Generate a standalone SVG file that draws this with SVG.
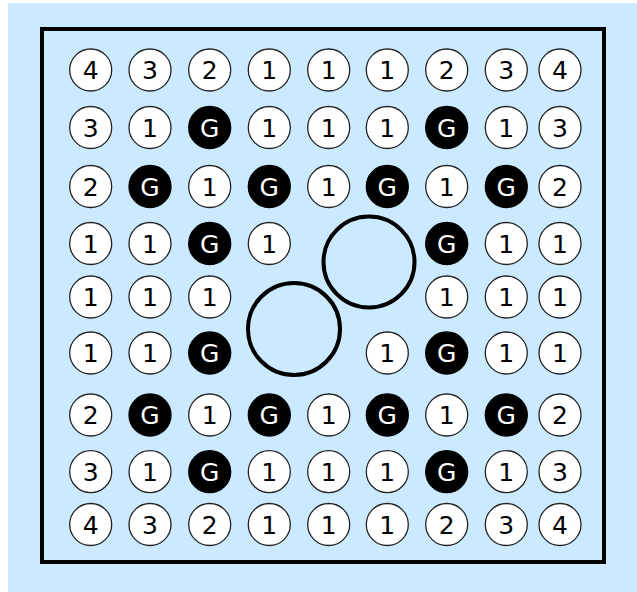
<svg xmlns="http://www.w3.org/2000/svg" width="637" height="592" viewBox="0 0 637 592">
<style>
.w circle{fill:#fff;stroke:#222;stroke-width:1.3}
.b circle{fill:#000;stroke:#000;stroke-width:1.3}
text{font-family:"DejaVu Sans",Verdana,sans-serif;font-size:25px;text-anchor:middle}
.w text{fill:#000}
.b text{fill:#fff}
.big{fill:none;stroke:#000;stroke-width:4}
</style>
<rect x="0" y="0" width="637" height="592" fill="#fff"/>
<rect x="8" y="3" width="629" height="589" fill="#cceaff"/>
<rect x="42" y="29" width="562" height="533" fill="none" stroke="#000" stroke-width="4"/>
<g id="nodes">
<g id="r1c1" class="w"><circle cx="90.7" cy="70" r="21"/><text x="90.7" y="79">4</text></g>
<g id="r1c2" class="w"><circle cx="150" cy="70" r="21"/><text x="150" y="79">3</text></g>
<g id="r1c3" class="w"><circle cx="209.7" cy="70" r="21"/><text x="209.7" y="79">2</text></g>
<g id="r1c4" class="w"><circle cx="269.3" cy="70" r="21"/><text x="269.3" y="79">1</text></g>
<g id="r1c5" class="w"><circle cx="328.7" cy="70" r="21"/><text x="328.7" y="79">1</text></g>
<g id="r1c6" class="w"><circle cx="387.3" cy="70" r="21"/><text x="387.3" y="79">1</text></g>
<g id="r1c7" class="w"><circle cx="446.7" cy="70" r="21"/><text x="446.7" y="79">2</text></g>
<g id="r1c8" class="w"><circle cx="506.3" cy="70" r="21"/><text x="506.3" y="79">3</text></g>
<g id="r1c9" class="w"><circle cx="560" cy="70" r="21"/><text x="560" y="79">4</text></g>

<g id="r2c1" class="w"><circle cx="90.7" cy="127.5" r="21"/><text x="90.7" y="136.5">3</text></g>
<g id="r2c2" class="w"><circle cx="150" cy="127.5" r="21"/><text x="150" y="136.5">1</text></g>
<g id="r2c3" class="b"><circle cx="209.7" cy="127.5" r="21"/><text x="209.7" y="136.5">G</text></g>
<g id="r2c4" class="w"><circle cx="269.3" cy="127.5" r="21"/><text x="269.3" y="136.5">1</text></g>
<g id="r2c5" class="w"><circle cx="328.7" cy="127.5" r="21"/><text x="328.7" y="136.5">1</text></g>
<g id="r2c6" class="w"><circle cx="387.3" cy="127.5" r="21"/><text x="387.3" y="136.5">1</text></g>
<g id="r2c7" class="b"><circle cx="446.7" cy="127.5" r="21"/><text x="446.7" y="136.5">G</text></g>
<g id="r2c8" class="w"><circle cx="506.3" cy="127.5" r="21"/><text x="506.3" y="136.5">1</text></g>
<g id="r2c9" class="w"><circle cx="560" cy="127.5" r="21"/><text x="560" y="136.5">3</text></g>

<g id="r3c1" class="w"><circle cx="90.7" cy="186.5" r="21"/><text x="90.7" y="195.5">2</text></g>
<g id="r3c2" class="b"><circle cx="150" cy="186.5" r="21"/><text x="150" y="195.5">G</text></g>
<g id="r3c3" class="w"><circle cx="209.7" cy="186.5" r="21"/><text x="209.7" y="195.5">1</text></g>
<g id="r3c4" class="b"><circle cx="269.3" cy="186.5" r="21"/><text x="269.3" y="195.5">G</text></g>
<g id="r3c5" class="w"><circle cx="328.7" cy="186.5" r="21"/><text x="328.7" y="195.5">1</text></g>
<g id="r3c6" class="b"><circle cx="387.3" cy="186.5" r="21"/><text x="387.3" y="195.5">G</text></g>
<g id="r3c7" class="w"><circle cx="446.7" cy="186.5" r="21"/><text x="446.7" y="195.5">1</text></g>
<g id="r3c8" class="b"><circle cx="506.3" cy="186.5" r="21"/><text x="506.3" y="195.5">G</text></g>
<g id="r3c9" class="w"><circle cx="560" cy="186.5" r="21"/><text x="560" y="195.5">2</text></g>

<g id="r4c1" class="w"><circle cx="90.7" cy="243.5" r="21"/><text x="90.7" y="252.5">1</text></g>
<g id="r4c2" class="w"><circle cx="150" cy="243.5" r="21"/><text x="150" y="252.5">1</text></g>
<g id="r4c3" class="b"><circle cx="209.7" cy="243.5" r="21"/><text x="209.7" y="252.5">G</text></g>
<g id="r4c4" class="w"><circle cx="269.3" cy="243.5" r="21"/><text x="269.3" y="252.5">1</text></g>
<g id="r4c7" class="b"><circle cx="446.7" cy="243.5" r="21"/><text x="446.7" y="252.5">G</text></g>
<g id="r4c8" class="w"><circle cx="506.3" cy="243.5" r="21"/><text x="506.3" y="252.5">1</text></g>
<g id="r4c9" class="w"><circle cx="560" cy="243.5" r="21"/><text x="560" y="252.5">1</text></g>

<g id="r5c1" class="w"><circle cx="90.7" cy="297" r="21"/><text x="90.7" y="306">1</text></g>
<g id="r5c2" class="w"><circle cx="150" cy="297" r="21"/><text x="150" y="306">1</text></g>
<g id="r5c3" class="w"><circle cx="209.7" cy="297" r="21"/><text x="209.7" y="306">1</text></g>
<g id="r5c7" class="w"><circle cx="446.7" cy="297" r="21"/><text x="446.7" y="306">1</text></g>
<g id="r5c8" class="w"><circle cx="506.3" cy="297" r="21"/><text x="506.3" y="306">1</text></g>
<g id="r5c9" class="w"><circle cx="560" cy="297" r="21"/><text x="560" y="306">1</text></g>

<g id="r6c1" class="w"><circle cx="90.7" cy="353" r="21"/><text x="90.7" y="362">1</text></g>
<g id="r6c2" class="w"><circle cx="150" cy="353" r="21"/><text x="150" y="362">1</text></g>
<g id="r6c3" class="b"><circle cx="209.7" cy="353" r="21"/><text x="209.7" y="362">G</text></g>
<g id="r6c6" class="w"><circle cx="387.3" cy="353" r="21"/><text x="387.3" y="362">1</text></g>
<g id="r6c7" class="b"><circle cx="446.7" cy="353" r="21"/><text x="446.7" y="362">G</text></g>
<g id="r6c8" class="w"><circle cx="506.3" cy="353" r="21"/><text x="506.3" y="362">1</text></g>
<g id="r6c9" class="w"><circle cx="560" cy="353" r="21"/><text x="560" y="362">1</text></g>

<g id="r7c1" class="w"><circle cx="90.7" cy="415" r="21"/><text x="90.7" y="424">2</text></g>
<g id="r7c2" class="b"><circle cx="150" cy="415" r="21"/><text x="150" y="424">G</text></g>
<g id="r7c3" class="w"><circle cx="209.7" cy="415" r="21"/><text x="209.7" y="424">1</text></g>
<g id="r7c4" class="b"><circle cx="269.3" cy="415" r="21"/><text x="269.3" y="424">G</text></g>
<g id="r7c5" class="w"><circle cx="328.7" cy="415" r="21"/><text x="328.7" y="424">1</text></g>
<g id="r7c6" class="b"><circle cx="387.3" cy="415" r="21"/><text x="387.3" y="424">G</text></g>
<g id="r7c7" class="w"><circle cx="446.7" cy="415" r="21"/><text x="446.7" y="424">1</text></g>
<g id="r7c8" class="b"><circle cx="506.3" cy="415" r="21"/><text x="506.3" y="424">G</text></g>
<g id="r7c9" class="w"><circle cx="560" cy="415" r="21"/><text x="560" y="424">2</text></g>

<g id="r8c1" class="w"><circle cx="90.7" cy="471.7" r="21"/><text x="90.7" y="480.7">3</text></g>
<g id="r8c2" class="w"><circle cx="150" cy="471.7" r="21"/><text x="150" y="480.7">1</text></g>
<g id="r8c3" class="b"><circle cx="209.7" cy="471.7" r="21"/><text x="209.7" y="480.7">G</text></g>
<g id="r8c4" class="w"><circle cx="269.3" cy="471.7" r="21"/><text x="269.3" y="480.7">1</text></g>
<g id="r8c5" class="w"><circle cx="328.7" cy="471.7" r="21"/><text x="328.7" y="480.7">1</text></g>
<g id="r8c6" class="w"><circle cx="387.3" cy="471.7" r="21"/><text x="387.3" y="480.7">1</text></g>
<g id="r8c7" class="b"><circle cx="446.7" cy="471.7" r="21"/><text x="446.7" y="480.7">G</text></g>
<g id="r8c8" class="w"><circle cx="506.3" cy="471.7" r="21"/><text x="506.3" y="480.7">1</text></g>
<g id="r8c9" class="w"><circle cx="560" cy="471.7" r="21"/><text x="560" y="480.7">3</text></g>

<g id="r9c1" class="w"><circle cx="90.7" cy="524.5" r="21"/><text x="90.7" y="533.5">4</text></g>
<g id="r9c2" class="w"><circle cx="150" cy="524.5" r="21"/><text x="150" y="533.5">3</text></g>
<g id="r9c3" class="w"><circle cx="209.7" cy="524.5" r="21"/><text x="209.7" y="533.5">2</text></g>
<g id="r9c4" class="w"><circle cx="269.3" cy="524.5" r="21"/><text x="269.3" y="533.5">1</text></g>
<g id="r9c5" class="w"><circle cx="328.7" cy="524.5" r="21"/><text x="328.7" y="533.5">1</text></g>
<g id="r9c6" class="w"><circle cx="387.3" cy="524.5" r="21"/><text x="387.3" y="533.5">1</text></g>
<g id="r9c7" class="w"><circle cx="446.7" cy="524.5" r="21"/><text x="446.7" y="533.5">2</text></g>
<g id="r9c8" class="w"><circle cx="506.3" cy="524.5" r="21"/><text x="506.3" y="533.5">3</text></g>
<g id="r9c9" class="w"><circle cx="560" cy="524.5" r="21"/><text x="560" y="533.5">4</text></g>

<g id="big1"><circle class="big" cx="369" cy="262" r="45.5"/></g>
<g id="big2"><circle class="big" cx="294" cy="329" r="46"/></g>
</g>
<g id="connectors"></g>
</svg>
